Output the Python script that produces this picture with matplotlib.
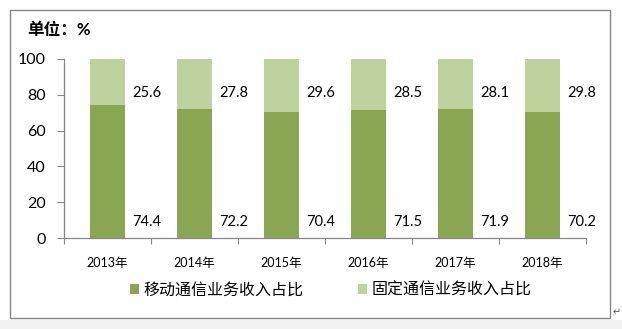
import matplotlib
matplotlib.use("Agg")
import matplotlib.pyplot as plt
from matplotlib.patches import Rectangle, Patch
import numpy as np

years = ["2013年", "2014年", "2015年", "2016年", "2017年", "2018年"]
mobile = [74.4, 72.2, 70.4, 71.5, 71.9, 70.2]
fixed = [25.6, 27.8, 29.6, 28.5, 28.1, 29.8]
series_names = ["移动通信业务收入占比", "固定通信业务收入占比"]
yticks = [0, 20, 40, 60, 80, 100]
unit_label = "单位：%"

W, H = 622, 329
fig = plt.figure(figsize=(W / 100, H / 100), dpi=100)
fig.patch.set_facecolor("white")

FONT = ["Lato", "Noto Sans CJK SC", "DejaVu Sans"]
CJK = ["Noto Sans CJK SC", "DejaVu Sans"]
DARK = "#8BA653"
LIGHT = "#BDD29C"
GREY = "#868686"

# bottom grey strip and outer frame
fig.add_artist(Rectangle((0, 0), 1, 9 / H, transform=fig.transFigure,
                         facecolor="#f2f2f2", edgecolor="none", zorder=-2))
fig.add_artist(Rectangle((10 / W, 1 - 318 / H), 600 / W, 308 / H,
                         transform=fig.transFigure, facecolor="white",
                         edgecolor=GREY, linewidth=1.0, zorder=-1))
fig.text(613 / W, 1 - 312 / H, "↵", fontsize=7, color="#555555",
         family=["DejaVu Sans"], ha="left", va="center")

left, right = 64 / W, 586 / W
bottom, top = 1 - 238 / H, 1 - 59 / H
ax = fig.add_axes([left, bottom, right - left, top - bottom])
ax.set_zorder(1)
ax.set_facecolor("none")

x = np.arange(len(years))
ax.bar(x, mobile, width=0.40, color=DARK, zorder=2)
ax.bar(x, fixed, width=0.40, bottom=mobile, color=LIGHT, zorder=2)

for xi, m, f in zip(x, mobile, fixed):
    ax.text(xi + 0.45, 81, f"{f:.1f}", ha="center", va="center",
            fontsize=10.5, family=FONT, color="black")
    ax.text(xi + 0.45, 9, f"{m:.1f}", ha="center", va="center",
            fontsize=10.5, family=FONT, color="black")

ax.set_xlim(-0.5, len(years) - 0.5)
ax.set_ylim(0, 100)
ax.set_yticks(yticks)
ax.set_yticklabels([str(v) for v in yticks], fontsize=11.5, family=FONT)
ax.set_xticks(x)
ax.set_xticklabels(years, fontsize=9, family=FONT)
ax.set_xticks(np.arange(len(years) + 1) - 0.5, minor=True)
ax.tick_params(axis="x", which="major", length=0, pad=14)
ax.tick_params(axis="x", which="minor", length=4, color=GREY, width=0.8)
ax.tick_params(axis="y", length=5, color=GREY, width=0.8, pad=8)
for s in ["top", "right"]:
    ax.spines[s].set_visible(False)
for s in ["left", "bottom"]:
    ax.spines[s].set_color(GREY)
    ax.spines[s].set_linewidth(0.9)

fig.text(27 / W, 1 - 30 / H, unit_label, fontsize=12, fontweight="bold",
         family=FONT, ha="left", va="center")

handles = [Patch(facecolor=DARK, edgecolor="none"),
           Patch(facecolor=LIGHT, edgecolor="none")]
fig.legend(handles, series_names, loc="center", bbox_to_anchor=(331 / W, 1 - 290 / H),
           ncol=2, frameon=False, prop={"family": CJK, "size": 11.5},
           handlelength=0.55, handleheight=0.55, handletextpad=0.3,
           columnspacing=3.4, borderpad=0)

fig.savefig("out.png", dpi=100)
